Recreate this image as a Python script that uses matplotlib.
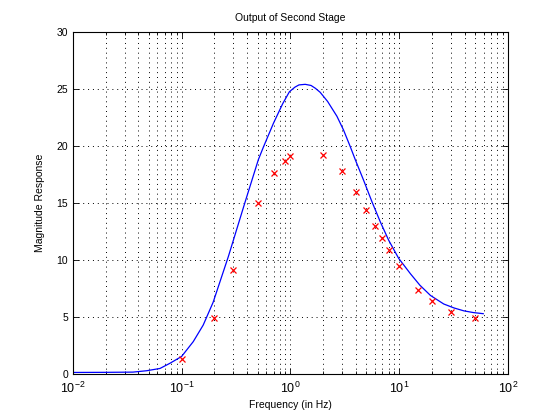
import numpy as np
import matplotlib
matplotlib.use("Agg")
from matplotlib import pyplot as plt
from matplotlib.ticker import LogLocator, NullFormatter

# fitted response curve
curve_f = [0.01, 0.02, 0.0357, 0.0477, 0.0633, 0.078, 0.1, 0.128, 0.158, 0.195, 0.269,
           0.384, 0.508, 0.565, 0.70, 0.85, 0.98, 1.1, 1.2, 1.37, 1.55, 1.7, 1.88,
           2.2, 2.68, 3.08, 3.55, 3.95, 4.71, 5.63, 6.71, 8.0, 9.9, 12.7,
           15.5, 19.4, 25.7, 32.0, 39.3, 48.0, 59.3]
curve_mag = [0.15, 0.16, 0.18, 0.3, 0.5, 0.95, 1.55, 2.85, 4.3, 6.3, 10.3,
             15.1, 18.8, 19.9, 22.0, 23.7, 24.75, 25.15, 25.35, 25.4, 25.3, 25.05, 24.7,
             23.9, 22.6, 21.4, 19.95, 18.8, 17.0, 15.1, 13.35, 11.75, 10.15, 8.8,
             7.8, 6.9, 6.15, 5.8, 5.55, 5.4, 5.3]

# measured points
meas_f = [0.1, 0.2, 0.3, 0.5, 0.7, 0.9, 1, 2, 3, 4, 5, 6, 7, 8, 10, 15, 20, 30, 50]
meas_mag = [1.3, 4.9, 9.1, 15.0, 17.6, 18.7, 19.1, 19.2, 17.8, 16.0, 14.4, 13.0,
            11.9, 10.9, 9.45, 7.4, 6.45, 5.45, 4.95]

plt.rcParams['font.family'] = ['Liberation Sans', 'DejaVu Sans']
plt.rcParams['font.size'] = 7.5

fig = plt.figure(figsize=(5.6, 4.19), dpi=100)
ax = fig.add_axes([0.130, 0.107, 0.777, 0.817])

ax.semilogx(curve_f, curve_mag, color='#0000ff', lw=0.9)
ax.semilogx(meas_f, meas_mag, 'x', color='#ff0000', ms=3.8, mew=0.9)

ax.set_xlim(1e-2, 1e2)
ax.set_ylim(0, 30)
ax.set_yticks([0, 5, 10, 15, 20, 25, 30])
ax.xaxis.set_major_locator(LogLocator(base=10, numticks=10))
ax.xaxis.set_minor_locator(LogLocator(base=10, subs=np.arange(2, 10), numticks=20))
ax.xaxis.set_minor_formatter(NullFormatter())

dots = dict(color='black', linestyle=(0, (1, 4)), linewidth=0.7)
ax.grid(True, which='major', axis='both', **dots)
ax.grid(True, which='minor', axis='x', **dots)

ax.tick_params(which='both', direction='in', top=True, right=True, width=0.6)
ax.tick_params(which='major', length=4)
ax.tick_params(which='minor', length=2)
ax.tick_params(axis='x', labelsize=9, pad=5)
for s in ax.spines.values():
    s.set_linewidth(0.8)

ax.set_title('Output of Second Stage', fontsize=7.5, pad=8)
ax.set_xlabel('Frequency (in Hz)', fontsize=7.5, labelpad=3)
ax.set_ylabel('Magnitude Response', fontsize=7.5, labelpad=8)

fig.savefig('out.png', dpi=100)
